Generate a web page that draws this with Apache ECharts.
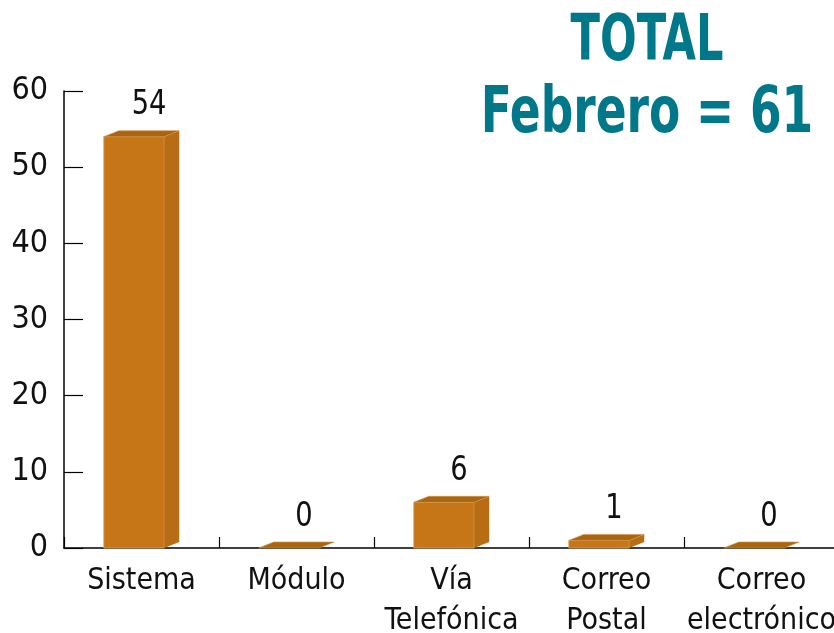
<!DOCTYPE html>
<html>
<head>
<meta charset="utf-8">
<script src="https://cdn.jsdelivr.net/npm/echarts@6/dist/echarts.min.js"></script>
<style>
  html, body { margin: 0; padding: 0; background: #fff; }
  #chart { width: 834px; height: 633px; }
</style>
</head>
<body>
<div id="chart"></div>
<script>
// datos
const categories = ['Sistema', 'Módulo', 'Vía\nTelefónica', 'Correo\nPostal', 'Correo\nelectrónico'];
const values = [54, 0, 6, 1, 0];
const yTicks = { min: 0, max: 60, interval: 10 };
const titleLines = ['TOTAL', 'Febrero = 61'];

const FONT = '"Liberation Sans Narrow", "DejaVu Sans Condensed", sans-serif';
const FRONT = '#c77617';
const TOP = '#a9650f';
const SIDE = '#b86c14';
const DX = 15, DY = -6;

const chart = echarts.init(document.getElementById('chart'));

// barra con efecto 3D
const renderBar = (params, api) => {
  const idx = api.value(0);
  const val = api.value(1);
  const top = api.coord([idx, val]);
  const base = api.coord([idx, 0]);
  const band = api.size([1, 0])[0];
  const w = band * 0.39;
  const x0 = top[0] - DX / 2 - w / 2;
  const x1 = x0 + w;
  const yt = top[1];
  const yb = base[1];
  const children = [];
  if (yb - yt > 0.5) {
    children.push({
      type: 'rect',
      shape: { x: x0, y: yt, width: w, height: yb - yt },
      style: { fill: FRONT, stroke: '#e3a25a', lineWidth: 0.8 }
    });
    children.push({
      type: 'polygon',
      shape: { points: [[x1, yt], [x1 + DX, yt + DY], [x1 + DX, yb + DY], [x1, yb]] },
      style: { fill: SIDE }
    });
  }
  children.push({
    type: 'polygon',
    shape: { points: [[x0, yt], [x0 + DX, yt + DY], [x1 + DX, yt + DY], [x1, yt]] },
    style: { fill: TOP, stroke: '#d39445', lineWidth: 0.6 }
  });
  children.push({
    type: 'text',
    x: (x0 + x1) / 2 + DX, y: yt + DY - 25,
    scaleX: 0.92,
    style: {
      text: String(val),
      align: 'center', verticalAlign: 'middle',
      font: '33px ' + FONT, fill: '#111'
    }
  });
  return { type: 'group', children };
};

// título en dos líneas, comprimido en horizontal
const titleScale = [0.75, 0.79];
const titleY = [43, 115];

const option = {
  animation: false,
  grid: { left: 64, top: 91, width: 775, bottom: 85, outerBoundsMode: 'none', containLabel: false },
  graphic: titleLines.map((t, i) => ({
    type: 'text',
    x: 647, y: titleY[i],
    scaleX: titleScale[i],
    style: {
      text: t, align: 'center', verticalAlign: 'middle',
      font: 'bold 64px ' + FONT, fill: '#00788a'
    }
  })),
  xAxis: {
    type: 'category',
    data: categories,
    axisLine: { lineStyle: { color: '#000', width: 1.5 } },
    axisTick: { show: true, inside: true, length: 11, interval: 0, lineStyle: { color: '#000', width: 1.2 } },
    axisLabel: { interval: 0, margin: 13, fontSize: 30, lineHeight: 40, color: '#111', fontFamily: FONT }
  },
  yAxis: {
    type: 'value',
    min: yTicks.min, max: yTicks.max, interval: yTicks.interval,
    splitLine: { show: false },
    axisLine: { show: true, lineStyle: { color: '#000', width: 1.5 } },
    axisTick: { show: true, inside: true, length: 19, lineStyle: { color: '#000', width: 1.2 } },
    axisLabel: { margin: 16, fontSize: 32, color: '#111', fontFamily: FONT }
  },
  series: [{
    type: 'custom',
    renderItem: renderBar,
    encode: { x: 0, y: 1 },
    data: values.map((v, i) => [i, v]),
    clip: false
  }]
};

chart.setOption(option);
</script>
</body>
</html>
